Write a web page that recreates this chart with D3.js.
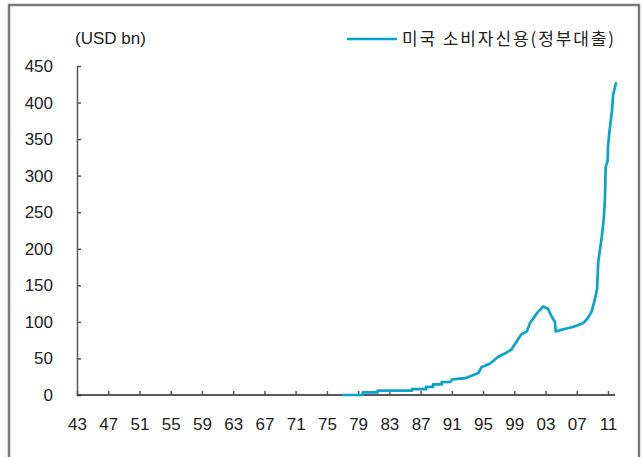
<!DOCTYPE html>
<html>
<head>
<meta charset="utf-8">
<script src="https://cdn.jsdelivr.net/npm/d3@7"></script>
<style>
  body { margin: 0; background: #fff; }
  svg text { font-family: Arial, "Liberation Sans", sans-serif; fill: #222; }
</style>
</head>
<body>
<div id="chart"></div>
<script>
// US consumer credit owned by federal government (USD bn)
var years = [1977.0, 1979.6, 1979.6, 1981.5, 1981.5, 1985.9, 1985.9, 1987.7, 1987.7, 1988.6,
             1988.6, 1989.7, 1989.7, 1990.8, 1991.1, 1992.7, 1993.7, 1994.4, 1994.8, 1995.9,
             1996.9, 1998.0, 1998.6, 1999.3, 1999.9, 2000.6, 2001.0, 2001.9, 2002.7, 2003.3,
             2003.8, 2004.2, 2004.3, 2005.3, 2006.5, 2007.8, 2008.4, 2008.9, 2009.3, 2009.6,
             2009.75, 2010.0, 2010.2, 2010.45, 2010.6, 2010.7, 2010.95, 2011.0, 2011.2, 2011.5,
             2011.65, 2012.0, 2012.05];
var values = [0, 0, 3.5, 3.5, 6, 6, 8, 8, 11, 11,
              14.5, 14.5, 17.5, 18, 21.5, 23, 27, 30, 38, 43,
              52, 58, 62, 73, 83, 87, 98, 112, 121, 118,
              107, 100, 87, 90, 93, 98, 105, 114, 130, 145,
              182, 201, 216, 240, 266, 312, 320, 340, 362, 388,
              410, 426, 428];
var xTickYears = d3.range(1943, 2012, 4);
var yTicks = d3.range(0, 451, 50);
var seriesName = "미국 소비자신용(정부대출)";
var unitLabel = "(USD bn)";

var width = 643, height = 457,
    colour = "#0aa3c9";

var data = years.map(function(y, i){ return { year: y, value: values[i] }; });

var svg = d3.select("#chart").append("svg")
    .attr("width", width)
    .attr("height", height);

// outer frame
svg.append("rect")
    .attr("x", 9).attr("y", 5)
    .attr("width", 630).attr("height", 470)
    .attr("fill", "none")
    .attr("stroke", "#7a7a7a")
    .attr("stroke-width", 2.5);

var xScale = d3.scaleLinear()
    .domain([1943, 2011])
    .range([77, 608]);
var yScale = d3.scaleLinear()
    .domain([0, 450])
    .range([395, 66]);

// y axis
var yAxis = d3.axisLeft(yScale)
    .tickValues(yTicks)
    .tickSize(-4)
    .tickPadding(24)
    .tickSizeOuter(0);
var yAxisG = svg.append("g")
    .attr("transform", "translate(" + xScale(1943) + ",0)")
    .call(yAxis);
yAxisG.select(".domain").attr("stroke", "#555").attr("stroke-width", 1.5);
yAxisG.selectAll(".tick line").attr("stroke", "#555").attr("stroke-width", 1.5);
yAxisG.selectAll(".tick text").style("font-size", "17px").attr("fill", "#222");

// x axis
var xAxis = d3.axisBottom(xScale)
    .tickValues(xTickYears)
    .tickSize(-4)
    .tickPadding(23)
    .tickSizeOuter(0)
    .tickFormat(function(d){ return d3.format("02d")(d % 100); });
var xAxisG = svg.append("g")
    .attr("transform", "translate(0," + yScale(0) + ")")
    .call(xAxis);
xAxisG.select(".domain")
    .attr("d", "M" + xScale(1943) + ",0H" + xScale(2011.9))
    .attr("stroke", "#222").attr("stroke-width", 1.5);
xAxisG.selectAll(".tick line").attr("stroke", "#555").attr("stroke-width", 1.5);
xAxisG.selectAll(".tick text").style("font-size", "17px").attr("fill", "#222");

// unit label
svg.append("text")
    .attr("x", 75)
    .attr("y", 44)
    .style("font-size", "17px")
    .text(unitLabel);

// line
var line = d3.line()
    .x(function(d){ return xScale(d.year); })
    .y(function(d){ return yScale(d.value); });

svg.append("path")
    .datum(data)
    .attr("fill", "none")
    .attr("stroke", colour)
    .attr("stroke-width", 2.7)
    .attr("stroke-linejoin", "round")
    .attr("d", line);

// legend
var legend = svg.append("g").attr("transform", "translate(347,39)");
legend.append("line")
    .attr("x1", 0).attr("x2", 50)
    .attr("stroke", colour).attr("stroke-width", 2.5);
legend.append("text")
    .attr("x", 55)
    .attr("y", 6)
    .style("font-family", "'Noto Sans CJK KR', sans-serif")
    .style("font-size", "17px")
    .style("letter-spacing", "1.9px")
    .text(seriesName);
</script>
</body>
</html>
